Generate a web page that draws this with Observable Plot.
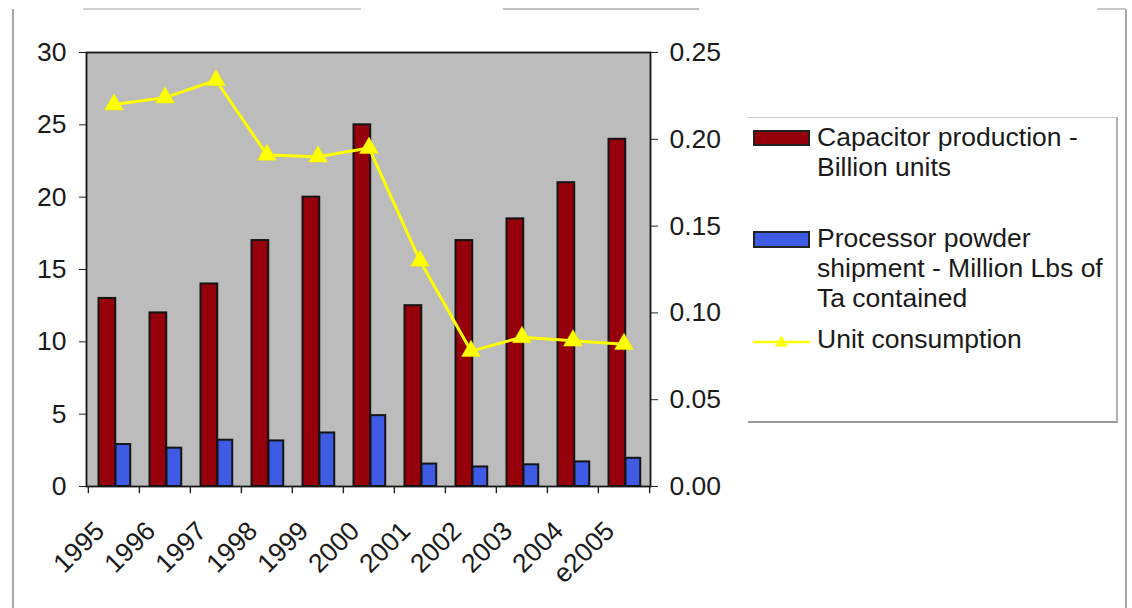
<!DOCTYPE html>
<html>
<head>
<meta charset="utf-8">
<script src="https://cdn.jsdelivr.net/npm/d3@7"></script>
<script src="https://cdn.jsdelivr.net/npm/@observablehq/plot@0.6"></script>
<style>
  html, body { margin: 0; padding: 0; background: #fff; }
  #wrap { position: relative; width: 1132px; height: 608px; overflow: hidden;
          font-family: "Liberation Sans", Arial, sans-serif; color: #1a1a1a; }
  #chart { position: absolute; left: 0; top: 0; }
  .edge { position: absolute; background: #a8a8a8; }
  .legend { position: absolute; left: 748px; top: 117px; width: 368px; height: 303px;
            border-top: 1px solid #c8c8c8; border-right: 2px solid #b0b0b0; border-bottom: 2px solid #9a9a9a; }
  .swatch { position: absolute; left: 753px; width: 57px; box-sizing: border-box; border: 2px solid #222; }
  .label { position: absolute; left: 817px; font-size: 26.5px; line-height: 30px; white-space: nowrap; }
</style>
</head>
<body>
<div id="wrap">
  <div id="chart"></div>
</div>
<script>
// Tantalum capacitor production, processor powder shipments and unit consumption
const years = ["1995", "1996", "1997", "1998", "1999", "2000", "2001", "2002", "2003", "2004", "e2005"];
const capacitorProduction = [13, 12, 14, 17, 20, 25, 12.5, 17, 18.5, 21, 24];        // billion units
const powderShipment = [2.9, 2.65, 3.2, 3.15, 3.7, 4.9, 1.55, 1.35, 1.5, 1.7, 1.95]; // million lbs Ta
const unitConsumption = [0.220, 0.224, 0.234, 0.191, 0.190, 0.195, 0.130, 0.078, 0.086, 0.084, 0.082];
const leftTicks = [0, 5, 10, 15, 20, 25, 30];
const rightTicks = [0, 0.05, 0.10, 0.15, 0.20, 0.25];

const seriesNames = [
  "Capacitor production - Billion units",
  "Processor powder shipment - Million Lbs of Ta contained",
  "Unit consumption"
];
const colors = { capacitor: "#96000a", powder: "#3f5be4", unit: "#ffff00" };

const rows = years.map((year, i) => ({
  year,
  capacitor: capacitorProduction[i],
  powder: powderShipment[i],
  unit: unitConsumption[i]
}));

// the secondary (right) axis shares the left scale: 0.25 on the right equals 30 on the left
const leftMax = 30, rightMax = 0.25;
const k = leftMax / rightMax;

const W = 1132, H = 608;
const mLeft = 86, mRight = 482, mTop = 52, mBottom = 122;
const band = (W - mLeft - mRight) / years.length;
const font = "Liberation Sans, Arial, sans-serif";
const fs = 26.5;

const chart = Plot.plot({
  width: W,
  height: H,
  marginLeft: mLeft,
  marginRight: mRight,
  marginTop: mTop,
  marginBottom: mBottom,
  style: { fontFamily: font, color: "#1a1a1a", background: "transparent", overflow: "visible" },
  x: { type: "band", domain: years, padding: 0, axis: null },
  y: { domain: [0, leftMax], axis: null },
  marks: [
    Plot.frame({ fill: "#bcbcbc" }),
    Plot.barY(rows, { x: "year", y: "capacitor", fill: colors.capacitor, stroke: "#141414", strokeWidth: 2,
                      insetLeft: 10.5, insetRight: band - 27.5 }),
    Plot.barY(rows, { x: "year", y: "powder", fill: colors.powder, stroke: "#141414", strokeWidth: 2,
                      insetLeft: 27.5, insetRight: band - 42.5 }),
    Plot.line(rows, { x: "year", y: d => d.unit * k, stroke: colors.unit, strokeWidth: 3 }),
    Plot.dot(rows, { x: "year", y: d => d.unit * k, symbol: "triangle", r: 7, fill: colors.unit, stroke: "#eeee00", strokeWidth: 0.5 }),
    Plot.frame({ stroke: "#151515", strokeWidth: 1.8 }),
    // category boundary ticks below the baseline
    Plot.ruleX(years, { x: d => d, y1: 0, y2: -0.5, dx: -band / 2, stroke: "#222", strokeWidth: 1.4 }),
    Plot.ruleX(years.slice(-1), { x: d => d, y1: 0, y2: -0.5, dx: band / 2, stroke: "#222", strokeWidth: 1.4 }),
    // rotated category labels
    Plot.text(years, { x: d => d, y: 0, text: d => d, rotate: -45, textAnchor: "end", lineAnchor: "bottom",
                       dx: -8, dy: 46, fontSize: fs, fill: "#1a1a1a" }),
    Plot.axisY({ anchor: "left", ticks: leftTicks, tickSize: 7, tickPadding: 13, fontSize: fs,
                 tickFormat: d => String(d), stroke: "#222" }),
    Plot.axisY(rightTicks.map(v => v * k), { anchor: "right", tickSize: 7, tickPadding: 12, fontSize: fs,
                 tickFormat: d => (d / k).toFixed(2), stroke: "#222" })
  ]
});
document.getElementById("chart").appendChild(chart);

// legend beside the plot
const wrap = document.getElementById("wrap");
function add(html) { wrap.insertAdjacentHTML("beforeend", html); }
add(`<div class="legend"></div>`);
add(`<div class="swatch" style="top:130px;height:16px;background:${colors.capacitor}"></div>`);
add(`<div class="label" style="top:122px">Capacitor production -<br>Billion units</div>`);
add(`<div class="swatch" style="top:231px;height:17px;background:${colors.powder}"></div>`);
add(`<div class="label" style="top:223px">Processor powder<br>shipment - Million Lbs of<br>Ta contained</div>`);
add(`<svg style="position:absolute;left:753px;top:332px" width="58" height="20">
       <line x1="0" y1="10" x2="57" y2="10" stroke="${colors.unit}" stroke-width="2.5"/>
       <path d="M28.5,3.5 L35,14.5 L22,14.5 Z" fill="${colors.unit}"/>
     </svg>`);
add(`<div class="label" style="top:324px">${seriesNames[2]}</div>`);

// faint border of the surrounding chart area
add(`<div class="edge" style="left:12px;top:9px;width:1.5px;height:599px"></div>`);
add(`<div class="edge" style="left:1125px;top:9px;width:1.5px;height:599px"></div>`);
add(`<div class="edge" style="left:83px;top:8px;width:278px;height:1.5px;background:#d0d0d0"></div>`);
add(`<div class="edge" style="left:503px;top:8px;width:196px;height:1.5px;background:#c0c0c0"></div>`);
add(`<div class="edge" style="left:1097px;top:8px;width:29px;height:1.5px;background:#c8c8c8"></div>`);
</script>
</body>
</html>
